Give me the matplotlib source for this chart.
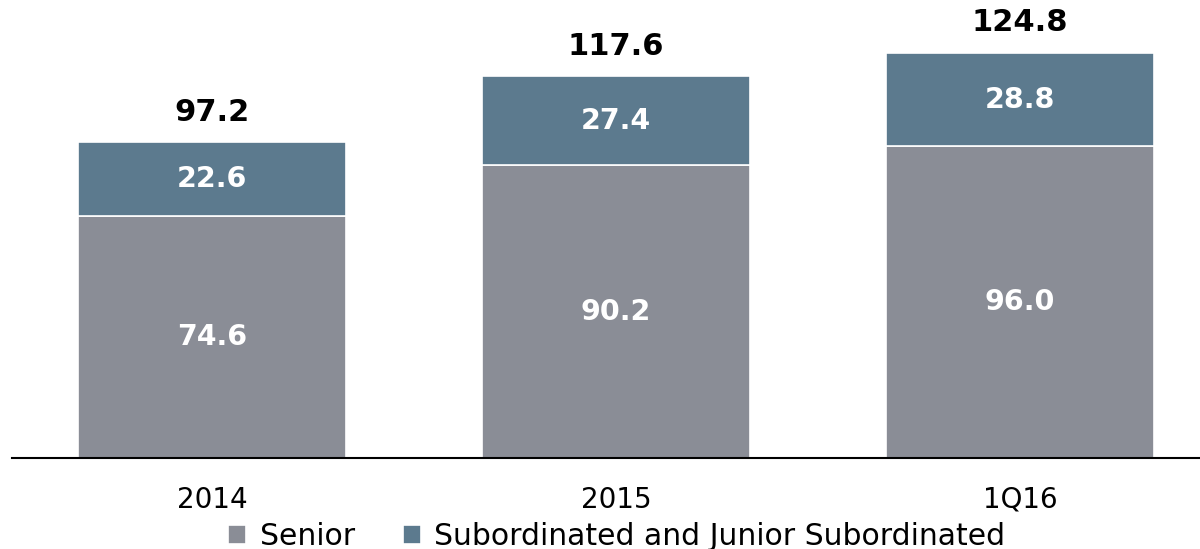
import matplotlib.pyplot as plt

# Debt outstanding by seniority
periods = ["2014", "2015", "1Q16"]
senior = [74.6, 90.2, 96.0]
subordinated = [22.6, 27.4, 28.8]
totals = [97.2, 117.6, 124.8]

grey = "#8a8d96"
slate = "#5c7a8e"

plt.rcParams["font.family"] = "DejaVu Sans"

fig = plt.figure(figsize=(12, 5.49), dpi=100)
ax = fig.add_axes([0.01, 0.1658, 0.99, 0.8342])

x = list(range(len(periods)))
w = 0.663
ax.bar(x, senior, width=w, color=grey, edgecolor="white", linewidth=1.2, label="Senior")
ax.bar(x, subordinated, width=w, bottom=senior, color=slate, edgecolor="white",
       linewidth=1.2, label="Subordinated and Junior Subordinated")

for i in x:
    ax.text(i, senior[i] / 2, f"{senior[i]:.1f}", ha="center", va="center",
            color="white", fontsize=20.5, fontweight="bold")
    ax.text(i, senior[i] + subordinated[i] / 2, f"{subordinated[i]:.1f}", ha="center",
            va="center", color="white", fontsize=20.5, fontweight="bold")
    ax.text(i, totals[i] + 9.3, f"{totals[i]:.1f}", ha="center", va="center",
            color="black", fontsize=22, fontweight="bold")

ax.set_xlim(-0.495, 2.446)
ax.set_ylim(0, 141.1)
ax.set_xticks(x)
ax.set_xticklabels(periods, fontsize=20)
ax.tick_params(axis="x", length=0, pad=20)
ax.set_yticks([])
for s in ["top", "right", "left"]:
    ax.spines[s].set_visible(False)
ax.spines["bottom"].set_linewidth(1.5)

fig.legend(loc="center", bbox_to_anchor=(0.514, 0.022), ncol=2, frameon=False,
           fontsize=21.5, handlelength=0.6, handleheight=0.6, handletextpad=0.45,
           columnspacing=1.6, borderpad=0)

fig.savefig("out.png", dpi=100)
